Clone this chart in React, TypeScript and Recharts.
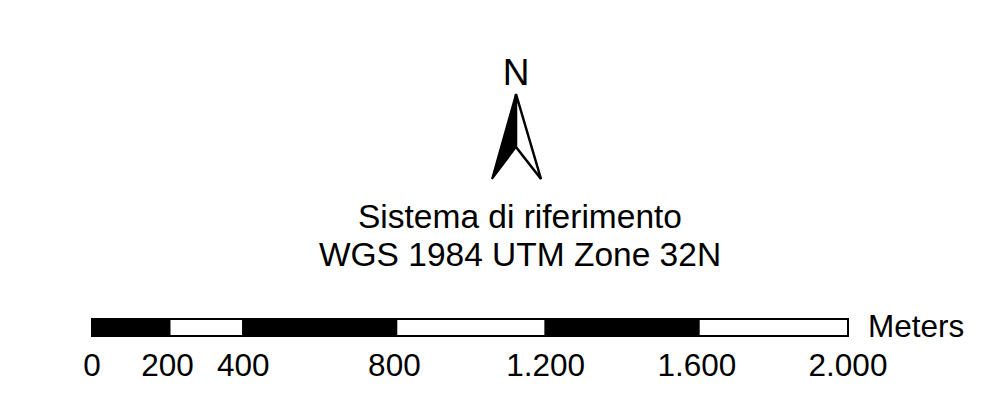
import { BarChart, Bar, XAxis, YAxis } from 'recharts'

// Scale bar, meters
const TICKS = [0, 200, 400, 800, 1200, 1600, 2000]
const SEGMENT_NAMES = ['s1', 's2', 's3', 's4', 's5', 's6']
const SEGMENT_LENGTHS = [205, 195, 405, 395, 405, 395]
const SEGMENT_FILLS = ['#000000', '#ffffff', '#000000', '#ffffff', '#000000', '#ffffff']

const TITLE_LINES = ['Sistema di riferimento', 'WGS 1984 UTM Zone 32N']
const UNIT = 'Meters'

const FONT = '"Liberation Sans", Arial, sans-serif'

const row: Record<string, string | number> = { name: 'scale' }
SEGMENT_NAMES.forEach((n, i) => { row[n] = SEGMENT_LENGTHS[i] })
const chartData = [row]

// 2.000 style labels, Italian thousands separator
const formatTick = (v: number) => v >= 1000 ? `${Math.floor(v / 1000)}.${String(v % 1000).padStart(3, '0')}` : String(v)

export default function App() {
  return (
    <div style={{ position: 'absolute', left: 0, top: 0, width: 991, height: 413, background: '#fff' }}>
      <BarChart
        width={991}
        height={413}
        data={chartData}
        layout="vertical"
        barCategoryGap={0}
        margin={{ top: 319, right: 143, bottom: 41, left: 92 }}
      >
        <XAxis
          type="number"
          domain={[0, 2000]}
          ticks={TICKS}
          tickFormatter={formatTick}
          interval={0}
          axisLine={false}
          tickLine={false}
          height={36}
          tickMargin={12}
          tick={{ fontSize: 31.5, fontFamily: FONT, fill: '#000' }}
        />
        <YAxis type="category" dataKey="name" hide />
        {SEGMENT_NAMES.map((n, i) => (
          <Bar
            key={n}
            dataKey={n}
            stackId="scale"
            fill={SEGMENT_FILLS[i]}
            stroke="#000"
            strokeWidth={2}
            isAnimationActive={false}
          />
        ))}
        {/* north arrow and labels */}
        <g>
          <polygon points="516,94 492,179 516,147" fill="#000" stroke="#000" strokeWidth={2} />
          <polygon points="516,94 541,179 516,147" fill="#fff" stroke="#000" strokeWidth={2.5} />
          <text x={516} y={85} textAnchor="middle" fontFamily={FONT} fontSize={37} fill="#000">N</text>
          <text x={520} y={228} textAnchor="middle" fontFamily={FONT} fontSize={33.5} fill="#000">{TITLE_LINES[0]}</text>
          <text x={520} y={266} textAnchor="middle" fontFamily={FONT} fontSize={33.5} fill="#000">{TITLE_LINES[1]}</text>
          <text x={868} y={337} fontFamily={FONT} fontSize={31.5} fill="#000">{UNIT}</text>
        </g>
      </BarChart>
    </div>
  )
}
